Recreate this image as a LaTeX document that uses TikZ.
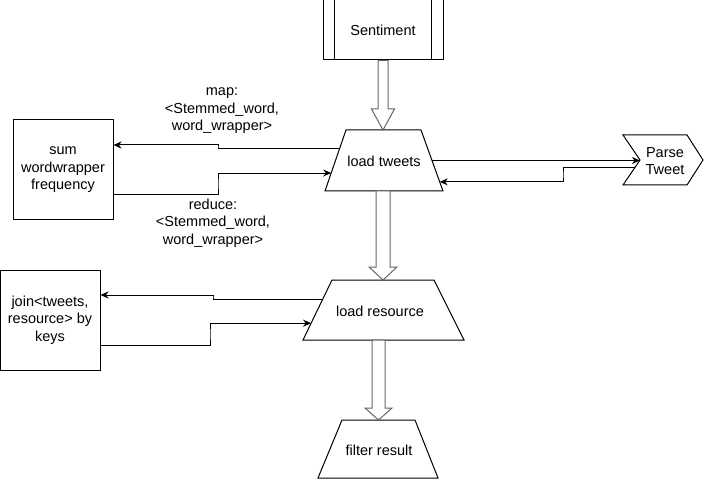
\documentclass[tikz,border=0pt]{standalone}
\usepackage{fontspec}
\setmainfont{Liberation Sans}
\usetikzlibrary{calc,arrows.meta}
\tikzset{
  txt/.style={font=\fontsize{14.5}{17.5}\selectfont, align=center, inner sep=0pt},
  boxnode/.style={draw, line width=1pt, rectangle, txt},
  outline/.style={draw, line width=1pt, line join=miter},
  conn/.style={draw, line width=1pt, -{Stealth[length=8pt,width=7pt,inset=2.5pt]}},
  blk/.style={draw=black!60, line width=1pt, fill=white, line join=miter},
}
\begin{document}
\begin{tikzpicture}[x=1pt,y=-1pt]
\useasboundingbox (0,0) rectangle (704,481);

% Sentiment (process box)
\node[boxnode, minimum width=120pt, minimum height=60pt] (sent) at (383,30) {Sentiment};
\draw[line width=1pt] ($(sent.north west)+(12,0)$) -- ($(sent.south west)+(12,0)$);
\draw[line width=1pt] ($(sent.north east)+(-12,0)$) -- ($(sent.south east)+(-12,0)$);

% load tweets trapezoid
\coordinate (ltBL) at (325,191); \coordinate (ltTL) at (346,130);
\coordinate (ltTR) at (421,130); \coordinate (ltBR) at (443,191);
\draw[outline] (ltBL) -- (ltTL) -- (ltTR) -- (ltBR) -- cycle;
\node[txt] (lt) at (384,161) {load tweets};

% load resource trapezoid
\coordinate (lrBL) at (303,340); \coordinate (lrTL) at (332,280);
\coordinate (lrTR) at (434,280); \coordinate (lrBR) at (464,340);
\draw[outline] (lrBL) -- (lrTL) -- (lrTR) -- (lrBR) -- cycle;
\node[txt] (lr) at (380,311) {load resource};

% filter result trapezoid
\coordinate (frBL) at (318,478); \coordinate (frTL) at (342,420);
\coordinate (frTR) at (415,420); \coordinate (frBR) at (438,478);
\draw[outline] (frBL) -- (frTL) -- (frTR) -- (frBR) -- cycle;
\node[txt] (fr) at (379,450) {filter result};

\node[boxnode, minimum width=100pt, minimum height=100pt] (sum) at (63,170) {sum\\wordwrapper\\frequency};
\node[boxnode, minimum width=100pt, minimum height=100pt] (join) at (50,320) {join<tweets,\\resource> by\\keys};

% Parse Tweet (step shape)
\draw[outline] (623,135) -- (687,135) -- (703,160) -- (687,185) -- (623,185) -- (640,160) -- cycle;
\node[txt] (pt) at (665,161) {Parse\\Tweet};
\coordinate (ptin) at (640,160);
\coordinate (ptout) at (635,168);

% labels
\node[txt] (maplbl) at (222,111) {map:\\<Stemmed\_word,\\word\_wrapper>};
\node[txt] (redlbl) at (213,223) {reduce:\\<Stemmed\_word,\\word\_wrapper>};

% block arrows
\coordinate (a1) at (383,0);
\draw[blk] ($(a1 |- sent.south)+(-5,0)$) -- ($(a1 |- ltTL)+(-5,-21)$) -- ++(-6.5,0)
  -- (a1 |- ltTL) -- ++(11.5,-21) -- ++(-6.5,0) -- ($(a1 |- sent.south)+(5,0)$) -- cycle;
\coordinate (a2) at (383,0);
\draw[blk] ($(a2 |- ltBL)+(-7,0)$) -- ($(a2 |- lrTL)+(-7,-13)$) -- ++(-7,0)
  -- (a2 |- lrTL) -- ++(14,-13) -- ++(-7,0) -- ($(a2 |- ltBL)+(7,0)$) -- cycle;
\coordinate (a3) at (378.5,0);
\draw[blk] ($(a3 |- lrBL)+(-6.5,0)$) -- ($(a3 |- frTL)+(-6.5,-12)$) -- ++(-7,0)
  -- (a3 |- frTL) -- ++(13.5,-12) -- ++(-7,0) -- ($(a3 |- lrBL)+(6.5,0)$) -- cycle;

% connectors load tweets <-> sum
\coordinate (mapS) at ($(ltBL)!0.69!(ltTL)$);
\coordinate (mapE) at ($(sum.east)+(0,-25)$);
\draw[conn] (mapS) -| (218,147) |- (mapE);
\coordinate (redS) at ($(sum.east)+(0,25)$);
\coordinate (redE) at ($(ltBL)!0.295!(ltTL)$);
\draw[conn] (redS) -| (218,184) |- (redE);

% load tweets <-> parse tweet
\coordinate (ltR) at ($(ltBR)!0.5!(ltTR)$);
\draw[conn] (ltR) -- (ltR -| ptin);
\coordinate (backE) at ($(ltBR)!0.15!(ltTR)$);
\draw[conn] (ptout) -| (563,175) |- (backE);

% load resource <-> join
\coordinate (jS) at ($(lrBL)!0.68!(lrTL)$);
\coordinate (jE) at ($(join.east)+(0,-25)$);
\draw[conn] (jS) -| (213,297) |- (jE);
\coordinate (kS) at ($(join.east)+(0,25)$);
\coordinate (kE) at ($(lrBL)!0.28!(lrTL)$);
\draw[conn] (kS) -| (210,334) |- (kE);
\end{tikzpicture}
\end{document}
